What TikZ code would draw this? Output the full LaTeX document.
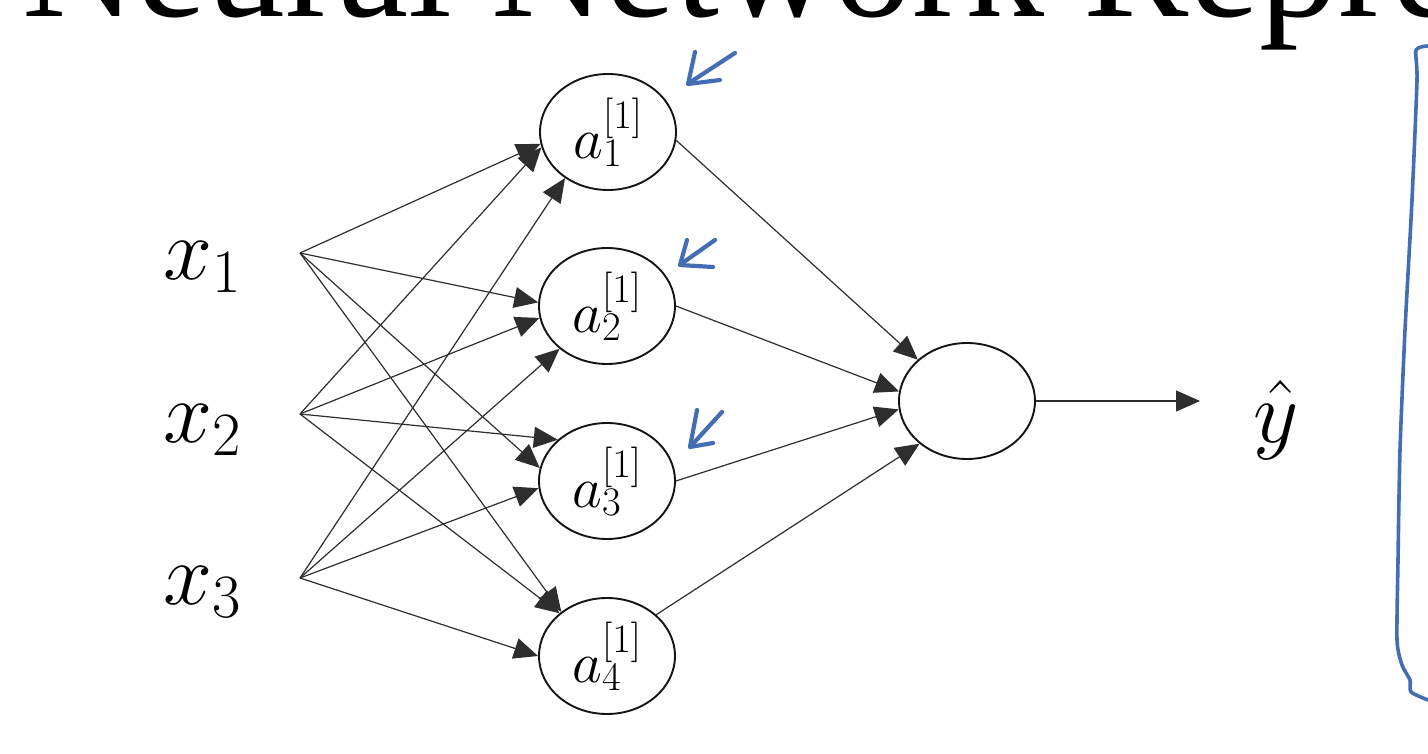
\RequirePackage{fix-cm}
\documentclass[tikz,border=0pt]{standalone}
\usepackage{fontspec}
\newfontfamily\titlefont{Liberation Serif}
\usetikzlibrary{arrows.meta,shapes.geometric}
\definecolor{pen}{RGB}{68,110,180}
\definecolor{ink}{RGB}{20,20,20}
\begin{document}
\begin{tikzpicture}[x=1pt,y=-1pt,
  unit/.style={draw=ink, line width=1.9pt, ellipse, minimum width=136pt,
    minimum height=116pt, inner sep=0pt, font=\fontsize{58}{58}\selectfont},
  edge/.style={draw=black!82, line width=1.2pt,
    -{Triangle[length=24pt,width=21pt]}},
  varlabel/.style={inner sep=0pt, font=\fontsize{88}{88}\selectfont},
  penstroke/.style={draw=pen, line width=4.2pt, line cap=round, line join=round}]

\useasboundingbox (0,0) rectangle (1428,754);
\fill[white] (0,0) rectangle (1428,754);

% heading, running off the top and right edges
\node[anchor=base west, inner sep=0pt, font=\titlefont\fontsize{158}{158}\selectfont]
  (title) at (22,17) {Neural Network Representation};

% input layer
\node[varlabel] (x1) at (202,267) {$x_1$};
\node[varlabel] (x2) at (202,430) {$x_2$};
\node[varlabel] (x3) at (202,592) {$x_3$};
\coordinate (i1) at (300,253);
\coordinate (i2) at (300,414);
\coordinate (i3) at (300,578);

% hidden layer
\node[unit] (a1) at (608,132) {$a^{[1]}_1$};
\node[unit] (a2) at (607,306) {$a^{[1]}_2$};
\node[unit] (a3) at (607,481) {$a^{[1]}_3$};
\node[unit] (a4) at (607,656) {$a^{[1]}_4$};

% output unit
\node[unit] (out) at (967,401) {};
\coordinate (yend) at (1200,401);
\node[varlabel] (yhat) at (1276,420) {$\hat{y}$};

% input -> hidden
\draw[edge] (i1) -- (a1.190);
\draw[edge] (i1) -- (a2.177);
\draw[edge] (i1) -- (a3.169);
\draw[edge] (i1) -- (a4.136);
\draw[edge] (i2) -- (a1.193);
\draw[edge] (i2) -- (a2.190);
\draw[edge] (i2) -- (a3.140);
\draw[edge] (i2) -- (a4.138);
\draw[edge] (i3) -- (a1.227);
\draw[edge] (i3) -- (a2.222);
\draw[edge] (i3) -- (a3.186);
\draw[edge] (i3) -- (a4.180);

% hidden -> output
\draw[edge] (a1.353) -- (out.140);
\draw[edge] (a2.0) -- (out.172);
\draw[edge] (a3.0) -- (out.187);
\draw[edge] (a4.40) -- (out.222);
\draw[edge] (out.east) -- (yend);

% hand-drawn pointers
\draw[penstroke] (695,52) -- (688,84) -- (720,80);
\draw[penstroke] (735,53) -- (689,83);
\draw[penstroke] (687,240) -- (680,265) -- (713,267);
\draw[penstroke] (715,240) -- (681,264);
\draw[penstroke] (697,410) -- (690,447) -- (713,443);
\draw[penstroke] (722,412) -- (691,446);

% hand-drawn bracket
\draw[penstroke, line width=3.6pt] plot[smooth, tension=0.4] coordinates
  {(1428,46) (1416,50) (1417,80) (1412,200) (1405,330) (1400,450)
   (1398,560) (1397,640) (1402,665) (1410,680) (1411,692) (1428,700)};
\end{tikzpicture}
\end{document}
